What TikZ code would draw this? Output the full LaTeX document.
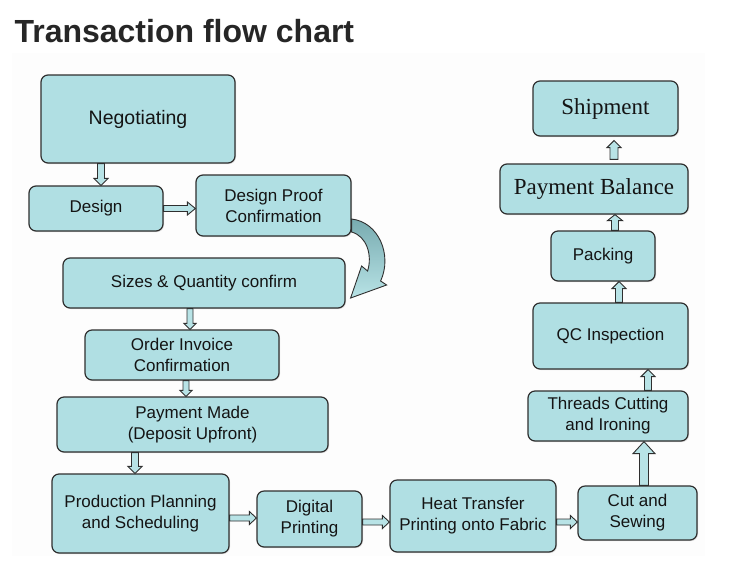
\documentclass[tikz,border=0pt]{standalone}
\usepackage{fontspec}
\setmainfont{Liberation Sans}
\newfontfamily\serifface{Liberation Serif}
\usetikzlibrary{calc,shadows}
\definecolor{boxfill}{HTML}{B0DFE3}
\definecolor{boxline}{HTML}{2F2F2F}
\definecolor{arrfill}{HTML}{B8E3E6}
\definecolor{curvetop}{HTML}{78ABB0}
\definecolor{panel}{HTML}{FDFDFD}
\newcommand{\blockarr}[5]{%
  \coordinate (tmpH) at ($(#2)!#5!(#1)$);
  \draw[barrow] ($(#1)!#3!90:(#2)$) -- ($(tmpH)!#3!90:(#2)$) -- ($(tmpH)!#4!90:(#2)$) -- (#2)
    -- ($(tmpH)!#4!-90:(#2)$) -- ($(tmpH)!#3!-90:(#2)$) -- ($(#1)!#3!-90:(#2)$) -- cycle;
}
\begin{document}
\begin{tikzpicture}[x=1pt,y=-1pt,
  box/.style={draw=boxline, line width=1.2pt, fill=boxfill, rounded corners=7pt,
    inner sep=0pt, align=center, text=black!92,
    font=\fontsize{17}{21}\selectfont,
    drop shadow={shadow xshift=1pt, shadow yshift=-1pt, opacity=0.25}},
  serifbox/.style={box, font=\serifface\fontsize{23}{27}\selectfont},
  barrow/.style={draw=boxline, line width=0.9pt, fill=arrfill, line join=miter},
  curvearrow/.style={draw=boxline, line width=0.9pt, top color=curvetop, bottom color=arrfill}]
\useasboundingbox (0,0) rectangle (731,566);
\fill[panel] (12,53) rectangle (705,556);
\node[anchor=base west, font=\bfseries\fontsize{32}{38}\selectfont, text=black!85] (title) at (11,42) {Transaction flow chart};
% boxes
\node[box, minimum width=194pt, minimum height=88pt, font=\fontsize{19.5}{23}\selectfont] (neg) at (138,119) {Negotiating};
\node[box, minimum width=134pt, minimum height=45pt] (des) at (96,208.5) {Design};
\node[box, minimum width=155pt, minimum height=61pt] (dpc) at (273.5,205.5) {Design Proof\\Confirmation};
\node[box, minimum width=282pt, minimum height=50pt] (siz) at (204,283) {Sizes \& Quantity confirm};
\node[box, minimum width=194pt, minimum height=50pt] (ord) at (182,355) {Order Invoice\\Confirmation};
\node[box, minimum width=271pt, minimum height=55pt] (pay) at (192.5,424.5) {Payment Made\\(Deposit Upfront)};
\node[box, minimum width=177pt, minimum height=79pt] (pro) at (140.5,513.5) {Production Planning\\and Scheduling};
\node[box, minimum width=105pt, minimum height=56pt] (dig) at (309.5,519) {Digital\\Printing};
\node[box, minimum width=166pt, minimum height=72pt] (hea) at (473,516) {Heat Transfer\\Printing onto Fabric};
\node[box, minimum width=119pt, minimum height=54pt] (cut) at (637.5,513) {Cut and\\Sewing};
\node[box, minimum width=160pt, minimum height=50pt] (thr) at (608,416) {Threads Cutting\\and Ironing};
\node[box, minimum width=155pt, minimum height=66pt] (qc) at (610.5,336) {QC Inspection};
\node[box, minimum width=104pt, minimum height=50pt] (pac) at (603,256) {Packing};
\node[serifbox, minimum width=188pt, minimum height=50pt] (pb) at (594,189) {Payment Balance};
\node[serifbox, minimum width=145pt, minimum height=55pt] (shi) at (605.5,108.5) {Shipment};
% arrow end points
\coordinate (a1s) at ([xshift=-37pt]neg.south);   \coordinate (a1e) at (a1s |- des.north);
\coordinate (a2s) at (des.east);                   \coordinate (a2e) at (a2s -| dpc.west);
\coordinate (a4s) at ([xshift=-14pt]siz.south);   \coordinate (a4e) at (a4s |- ord.north);
\coordinate (a5s) at ([xshift=4pt]ord.south);     \coordinate (a5e) at (a5s |- pay.north);
\coordinate (a6s) at ([xshift=-57.5pt]pay.south); \coordinate (a6e) at (a6s |- pro.north);
\coordinate (a7s) at ([yshift=-4.5pt]pro.east);   \coordinate (a7e) at (a7s -| dig.west);
\coordinate (a8s) at ([yshift=-3pt]dig.east);     \coordinate (a8e) at (a8s -| hea.west);
\coordinate (a9s) at ([yshift=-6pt]hea.east);     \coordinate (a9e) at (a9s -| cut.west);
\coordinate (a10s) at ([xshift=6.5pt]cut.north);  \coordinate (a10e) at (a10s |- thr.south);
\coordinate (a11s) at ([xshift=40pt]thr.north);   \coordinate (a11e) at (a11s |- qc.south);
\coordinate (a12s) at ([xshift=8.5pt]qc.north);   \coordinate (a12e) at (a12s |- pac.south);
\coordinate (a13s) at ([xshift=12pt]pac.north);   \coordinate (a13e) at (a13s |- pb.south);
\coordinate (a14s) at ([xshift=20pt,yshift=4pt]pb.north);
\coordinate (a14t) at (a14s |- shi.south);        \coordinate (a14e) at ([yshift=-4pt]a14t);
% block arrows
\blockarr{a1s}{a1e}{3.5pt}{7pt}{7pt}
\blockarr{a2s}{a2e}{3pt}{6.5pt}{8pt}
\blockarr{a4s}{a4e}{3pt}{6pt}{6pt}
\blockarr{a5s}{a5e}{3pt}{6pt}{6pt}
\blockarr{a6s}{a6e}{3.5pt}{7pt}{7pt}
\blockarr{a7s}{a7e}{3pt}{6.5pt}{7pt}
\blockarr{a8s}{a8e}{3pt}{6.5pt}{7pt}
\blockarr{a9s}{a9e}{3pt}{6.5pt}{7pt}
\blockarr{a10s}{a10e}{4.5pt}{11pt}{12pt}
\blockarr{a11s}{a11e}{3.5pt}{7pt}{7pt}
\blockarr{a12s}{a12e}{3.5pt}{7pt}{7pt}
\blockarr{a13s}{a13e}{3.5pt}{7.5pt}{6pt}
\blockarr{a14s}{a14e}{4pt}{7pt}{7pt}
% curved arrow from Design Proof Confirmation to Sizes & Quantity confirm
\coordinate (c1) at ([yshift=-13.5pt]dpc.east);
\coordinate (c2) at ([yshift=-26.5pt]dpc.east);
\coordinate (ctip) at ([xshift=5pt,yshift=-15pt]siz.east);
\draw[curvearrow] (c1) .. controls +(27,3) and +(12,-26) .. ++(29,62)
  -- ++(6,4) -- (ctip) -- ++(11,-32) -- ++(6,5)
  .. controls +(5,-16) and +(15,4) .. (c2) -- cycle;
\end{tikzpicture}
\end{document}
